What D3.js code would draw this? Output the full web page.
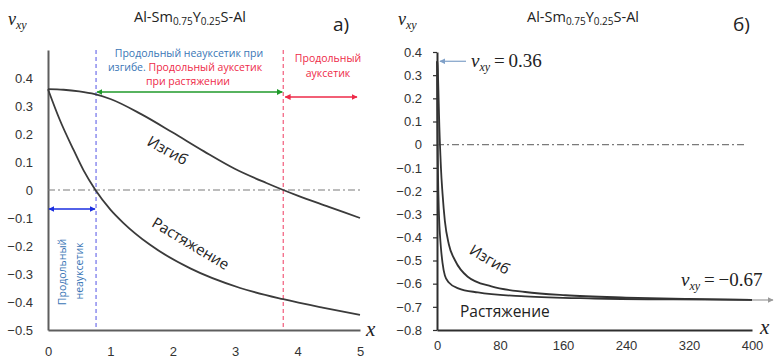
<!DOCTYPE html>
<html lang="ru">
<head>
<meta charset="UTF-8">
<title>Al-Sm0.75Y0.25S-Al</title>
<script src="https://cdn.jsdelivr.net/npm/d3@7"></script>
<style>
    body{margin:0;background:#fff}
    svg{display:block;font-family:"Open Sans","Noto Sans","DejaVu Sans",sans-serif}
    .tick text{font-size:13px;fill:#333}
    .serif{font-family:"Liberation Serif","DejaVu Serif",serif}
</style>
</head>
<body>
<svg id="fig" width="778" height="363"></svg>
<script>
    // panel a) : small x
    let bendX = [0, 0.25, 0.5, 0.75, 1, 1.5, 2, 2.5, 3, 3.5, 3.77, 4, 4.5, 5]
    let bendV = [0.36, 0.358, 0.352, 0.342, 0.325, 0.27, 0.205, 0.138, 0.075, 0.025, 0, -0.02, -0.06, -0.1]
    let stretchX = [0, 0.19, 0.41, 0.57, 0.76, 1, 1.21, 1.63, 2.28, 3.08, 3.77, 4.4, 5]
    let stretchV = [0.36, 0.25, 0.143, 0.07, 0, -0.07, -0.118, -0.195, -0.28, -0.35, -0.39, -0.42, -0.446]
    // panel б) : same curves continued to large x
    let bendFarX = [7, 10, 15, 23, 39, 69, 112, 163, 240, 320, 400]
    let bendFarV = [-0.21, -0.33, -0.43, -0.5, -0.57, -0.612, -0.636, -0.65, -0.66, -0.666, -0.67]
    let stretchFarX = [7, 10, 15, 27, 52, 112, 200, 300, 400]
    let stretchFarV = [-0.51, -0.565, -0.595, -0.62, -0.638, -0.655, -0.664, -0.668, -0.67]

    let yTicksA = [0.4, 0.3, 0.2, 0.1, 0, -0.1, -0.2, -0.3, -0.4, -0.5]
    let xTicksA = [0, 1, 2, 3, 4, 5]
    let yTicksB = [0.4, 0.3, 0.2, 0.1, 0, -0.1, -0.2, -0.3, -0.4, -0.5, -0.6, -0.7, -0.8]
    let xTicksB = [0, 80, 160, 240, 320, 400]
    let zeroStretch = 0.77, zeroBend = 3.77
    let nuStart = 0.36, nuEnd = -0.67

    let svg = d3.select("#fig")
    svg.append("rect").attr("width", 778).attr("height", 363).attr("fill", "#fff")

    // arrow markers
    let defs = svg.append("defs")
    function marker(id, color){
        defs.append("marker")
            .attr("id", id)
            .attr("viewBox", "0 0 10 10")
            .attr("refX", 9).attr("refY", 5)
            .attr("markerWidth", 6).attr("markerHeight", 6)
            .attr("markerUnits", "userSpaceOnUse")
            .attr("orient", "auto-start-reverse")
            .append("path")
            .attr("d", "M0,0L10,5L0,10z")
            .attr("fill", color)
    }
    marker("ag", "#1f9a2a")
    marker("ar", "#ee2a48")
    marker("ab", "#1a2ee0")
    marker("as", "#7fa0c8")
    marker("agr", "#9a9a9a")

    let fmtY = d => d === 0 ? "0" : d3.format(".1f")(d)

    // ---------- panel a ----------
    let xA = d3.scaleLinear().domain([0, 5]).range([48, 360])
    let yA = d3.scaleLinear().domain([-0.5, 0.5]).range([330, 50])
    let gA = svg.append("g")

    gA.append("g")
        .attr("transform", "translate(48,0)")
        .call(d3.axisLeft(yA).tickValues(yTicksA).tickSize(0).tickSizeOuter(0).tickPadding(15).tickFormat(fmtY))
    gA.append("g")
        .attr("transform", "translate(0,330)")
        .call(d3.axisBottom(xA).tickValues(xTicksA).tickSize(0).tickSizeOuter(0).tickPadding(17).tickFormat(d3.format("d")))
    gA.selectAll(".domain").attr("stroke", "#5e5e5e").attr("stroke-width", 2)

    // zero line
    gA.append("line")
        .attr("x1", xA(0)).attr("x2", xA(5)).attr("y1", yA(0)).attr("y2", yA(0))
        .attr("stroke", "#7a7a7a").attr("stroke-width", 1.2).attr("stroke-dasharray", "7,3,2,3")

    // boundaries
    gA.append("line")
        .attr("x1", xA(zeroStretch)).attr("x2", xA(zeroStretch)).attr("y1", yA(0.5)).attr("y2", yA(-0.5))
        .attr("stroke", "#7070ea").attr("stroke-width", 1.2).attr("stroke-dasharray", "4,3")
    gA.append("line")
        .attr("x1", xA(zeroBend)).attr("x2", xA(zeroBend)).attr("y1", yA(0.5)).attr("y2", yA(-0.5))
        .attr("stroke", "#f25c7c").attr("stroke-width", 1.2).attr("stroke-dasharray", "4,3")

    let lineA = d3.line().x(d => xA(d[0])).y(d => yA(d[1])).curve(d3.curveMonotoneX)
    gA.append("path").datum(d3.zip(bendX, bendV)).attr("d", lineA)
        .attr("fill", "none").attr("stroke", "#3b3b3b").attr("stroke-width", 1.8)
    gA.append("path").datum(d3.zip(stretchX, stretchV)).attr("d", lineA)
        .attr("fill", "none").attr("stroke", "#3b3b3b").attr("stroke-width", 1.8)

    // range arrows
    gA.append("line")
        .attr("x1", xA(zeroStretch) + 1).attr("x2", xA(zeroBend) - 1).attr("y1", 92).attr("y2", 92)
        .attr("stroke", "#1f9a2a").attr("stroke-width", 1.3)
        .attr("marker-start", "url(#ag)").attr("marker-end", "url(#ag)")
    gA.append("line")
        .attr("x1", xA(zeroBend) + 2).attr("x2", 357).attr("y1", 97).attr("y2", 97)
        .attr("stroke", "#ee2a48").attr("stroke-width", 1.3)
        .attr("marker-start", "url(#ar)").attr("marker-end", "url(#ar)")
    gA.append("line")
        .attr("x1", xA(0) + 1).attr("x2", xA(zeroStretch) - 1).attr("y1", 209).attr("y2", 209)
        .attr("stroke", "#1a2ee0").attr("stroke-width", 1.3)
        .attr("marker-start", "url(#ab)").attr("marker-end", "url(#ab)")

    // region notes
    let blue = "#3a76b6", red = "#ee2a48"
    let note = gA.append("g").attr("font-size", 10.5).attr("text-anchor", "middle")
    note.append("text").attr("x", 189).attr("y", 57).attr("fill", blue).text("Продольный неауксетик при")
    let l2 = note.append("text").attr("x", 185).attr("y", 71)
    l2.append("tspan").attr("fill", blue).text("изгибе. ")
    l2.append("tspan").attr("fill", red).text("Продольный ауксетик")
    note.append("text").attr("x", 188).attr("y", 85).attr("fill", red).text("при растяжении")
    note.append("text").attr("x", 328).attr("y", 62).attr("fill", red).text("Продольный")
    note.append("text").attr("x", 328).attr("y", 77).attr("fill", red).text("ауксетик")
    note.append("text").attr("transform", "translate(66,272) rotate(-90)").attr("fill", blue).text("Продольный")
    note.append("text").attr("transform", "translate(83,271) rotate(-90)").attr("fill", blue).text("неауксетик")

    // curve labels
    gA.append("text").attr("transform", "translate(165,155) rotate(29)")
        .attr("text-anchor", "middle").attr("font-size", 15).attr("fill", "#222").text("Изгиб")
    gA.append("text").attr("transform", "translate(188,248) rotate(31)")
        .attr("text-anchor", "middle").attr("font-size", 15).attr("fill", "#222").text("Растяжение")

    // ---------- panel б ----------
    let xB = d3.scaleLinear().domain([0, 400]).range([437, 752])
    let yB = d3.scaleLinear().domain([-0.8, 0.4]).range([330, 52])
    let gB = svg.append("g")

    gB.append("g")
        .attr("transform", "translate(437,0)")
        .call(d3.axisLeft(yB).tickValues(yTicksB).tickSize(4).tickSizeOuter(0).tickPadding(11).tickFormat(fmtY))
    gB.append("g")
        .attr("transform", "translate(0,330)")
        .call(d3.axisBottom(xB).tickValues(xTicksB).tickSize(0).tickSizeOuter(0).tickPadding(11))
    gB.selectAll(".domain").attr("stroke", "#2e2e2e").attr("stroke-width", 2)
    gB.selectAll(".tick line").attr("stroke", "#2e2e2e").attr("stroke-width", 1.2)

    gB.append("line")
        .attr("x1", xB(0)).attr("x2", 747).attr("y1", yB(0)).attr("y2", yB(0))
        .attr("stroke", "#7a7a7a").attr("stroke-width", 1.2).attr("stroke-dasharray", "7,3,2,3")

    let lineB = d3.line().x(d => xB(d[0])).y(d => yB(d[1])).curve(d3.curveMonotoneX)
    gB.append("path").datum(d3.zip(bendX.concat(bendFarX), bendV.concat(bendFarV))).attr("d", lineB)
        .attr("fill", "none").attr("stroke", "#333").attr("stroke-width", 1.8)
    gB.append("path").datum(d3.zip(stretchX.concat(stretchFarX), stretchV.concat(stretchFarV))).attr("d", lineB)
        .attr("fill", "none").attr("stroke", "#333").attr("stroke-width", 1.8)

    gB.append("text").attr("transform", "translate(487,264) rotate(30)")
        .attr("text-anchor", "middle").attr("font-size", 15).attr("fill", "#222").text("Изгиб")
    gB.append("text").attr("x", 460).attr("y", 317)
        .attr("font-size", 15.5).attr("fill", "#222").text("Растяжение")

    // limit values
    gB.append("line")
        .attr("x1", 466).attr("x2", xB(0) + 3).attr("y1", yB(nuStart)).attr("y2", yB(nuStart))
        .attr("stroke", "#7fa0c8").attr("stroke-width", 1.2).attr("marker-end", "url(#as)")
    let t1 = gB.append("text").attr("class", "serif").attr("x", 471).attr("y", yB(nuStart) + 6).attr("font-size", 19).attr("fill", "#222")
    t1.append("tspan").attr("font-style", "italic").text("ν")
    t1.append("tspan").attr("font-style", "italic").attr("font-size", 12).attr("dy", 4).text("xy")
    t1.append("tspan").attr("dy", -4).text("\u2009=\u20090.36")

    gB.append("line")
        .attr("x1", 752).attr("x2", 773).attr("y1", 300).attr("y2", 300)
        .attr("stroke", "#9a9a9a").attr("stroke-width", 1.2).attr("marker-end", "url(#agr)")
    let t2 = gB.append("text").attr("class", "serif").attr("x", 681).attr("y", 286).attr("font-size", 19).attr("fill", "#222")
    t2.append("tspan").attr("font-style", "italic").text("ν")
    t2.append("tspan").attr("font-style", "italic").attr("font-size", 12).attr("dy", 4).text("xy")
    t2.append("tspan").attr("dy", -4).text("\u2009=\u2009\u2212" + Math.abs(nuEnd).toFixed(2))

    // ---------- titles, axis names ----------
    function title(cx){
        let t = svg.append("text").attr("x", cx).attr("y", 22).attr("text-anchor", "middle")
            .attr("font-size", 14.5).attr("fill", "#222")
        t.append("tspan").text("Al-Sm")
        t.append("tspan").attr("font-size", 10).attr("dy", 3).text("0.75")
        t.append("tspan").attr("dy", -3).text("Y")
        t.append("tspan").attr("font-size", 10).attr("dy", 3).text("0.25")
        t.append("tspan").attr("dy", -3).text("S-Al")
    }
    title(190)
    title(583)
    svg.append("text").attr("x", 333).attr("y", 31).attr("font-size", 19).attr("fill", "#222").text("а)")
    svg.append("text").attr("x", 733).attr("y", 31).attr("font-size", 19).attr("fill", "#222").text("б)")

    function nuLabel(x, y){
        let t = svg.append("text").attr("class", "serif").attr("x", x).attr("y", y)
            .attr("font-size", 18).attr("font-style", "italic").attr("fill", "#222")
        t.append("tspan").text("ν")
        t.append("tspan").attr("font-size", 12).attr("dy", 4).text("xy")
    }
    nuLabel(8, 25)
    nuLabel(398, 25)
    svg.append("text").attr("class", "serif").attr("x", 366).attr("y", 336)
        .attr("font-size", 21).attr("font-style", "italic").attr("fill", "#222").text("x")
    svg.append("text").attr("class", "serif").attr("x", 760).attr("y", 334)
        .attr("font-size", 21).attr("font-style", "italic").attr("fill", "#222").text("x")
</script>
</body>
</html>
